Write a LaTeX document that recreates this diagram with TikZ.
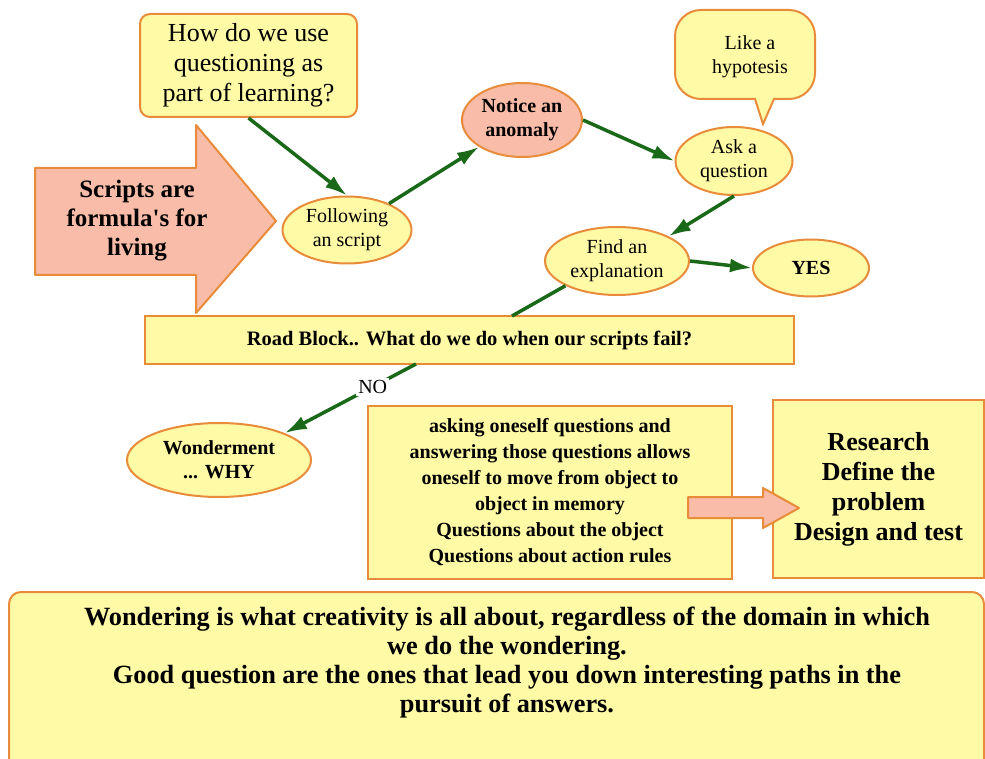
\documentclass[tikz,border=0pt]{standalone}
\usepackage{fontspec}
\setmainfont{Liberation Serif}
\usetikzlibrary{shapes.geometric,arrows.meta}
\definecolor{boxfill}{RGB}{255,250,165}
\definecolor{boxline}{RGB}{232,140,60}
\definecolor{salmon}{RGB}{248,188,168}
\definecolor{linkgreen}{RGB}{25,105,25}
\begin{document}
\begin{tikzpicture}[x=1pt,y=-1pt,
    every node/.style={inner sep=0pt,align=center},
    box/.style={draw=boxline,fill=boxfill,line width=2pt},
    oval/.style={box,ellipse},
    big/.style={draw=boxline,fill=salmon,line width=2pt,line join=round},
    link/.style={draw=linkgreen,line width=3.5pt,-{Latex[length=22pt,width=14pt]}},
    txt/.style={font=\fontsize{20}{24}\selectfont},
    boldtxt/.style={font=\fontsize{20}{24}\selectfont\bfseries}]
                \useasboundingbox (0,0) rectangle (985,759);
                \node[box,rounded corners=10pt,minimum width=217pt,minimum height=103pt,font=\fontsize{26}{30}\selectfont] (Q) at (248.5,65.5) {How do we use\\questioning as\\part of learning?};
                \draw[big] (35,168) -- (196,168) -- (196,125) -- (276,221) -- (196,313) -- (196,275) -- (35,275) -- cycle;
                \node[font=\fontsize{25}{29}\selectfont\bfseries] (S) at (137,221) {Scripts are\\formula\textquotesingle s for\\living};
                \node[oval,minimum width=129pt,minimum height=67pt,txt] (F) at (347,230) {Following\\an script};
                \node[oval,fill=salmon,minimum width=120pt,minimum height=74pt,boldtxt] (N) at (522,120) {Notice an\\anomaly};
                \node[oval,minimum width=117pt,minimum height=68pt,txt] (A) at (734,161) {Ask a\\question};
                \draw[box] (755,99) [rounded corners=26pt] -- (675,99) -- (675,10) -- (815,10) -- (815,99) [sharp corners] -- (774,99) -- (763,124) -- cycle;
                \node[txt] (H) at (750,57) {Like a\\hypotesis};
                \node[oval,minimum width=144pt,minimum height=68pt,txt] (E) at (617,261) {Find an\\explanation};
                \node[oval,minimum width=116pt,minimum height=57pt,boldtxt] (Y) at (811,268) {YES};
                \node[box,minimum width=649pt,minimum height=48pt,font=\fontsize{20.5}{24}\selectfont\bfseries] (R) at (469.5,340) {Road Block.. What do we do when our scripts fail?};
                \node[oval,minimum width=184pt,minimum height=74pt,boldtxt] (W) at (219,460) {Wonderment\\... WHY};
                \node[box,minimum width=364pt,minimum height=173pt,font=\fontsize{20}{26}\selectfont\bfseries] (M) at (550,492.5) {asking oneself questions and\\answering those questions allows\\oneself to move from object to\\object in memory\\Questions about the object\\Questions about action rules};
                \node[box,minimum width=211pt,minimum height=178pt,font=\fontsize{26}{30}\selectfont\bfseries] (D) at (878.5,489) {Research\\Define the\\problem\\Design and test};
                \draw[big] (688,497) -- (763,497) -- (763,488) -- (799,508) -- (763,528) -- (763,518) -- (688,518) -- cycle;
                \node[box,rounded corners=12pt,minimum width=975pt,minimum height=183pt] (B) at (496.5,683.5) {};
                \node[font=\fontsize{26.3}{29}\selectfont\bfseries] (T) at (507,663) {Wondering is what creativity is all about, regardless of the domain in which\\we do the wondering.\\Good question are the ones that lead you down interesting paths in the\\pursuit of answers.};
                \coordinate (R1) at (512,316);
                \coordinate (R2) at (416,364);
                \draw[link] (Q.south) -- (F.north);
                \draw[link] (F) -- (N);
                \draw[link] (N.east) -- (A.west);
                \draw[link] (A.south) -- (E.north east);
                \draw[link] (E.east) -- (Y.west);
                \draw[link,-] (E.south west) -- (R1);
                \draw[link] (R2) -- node[pos=0.33,fill=white,inner sep=2pt,txt] (L) {NO} (W.north east);
            \end{tikzpicture}
\end{document}
